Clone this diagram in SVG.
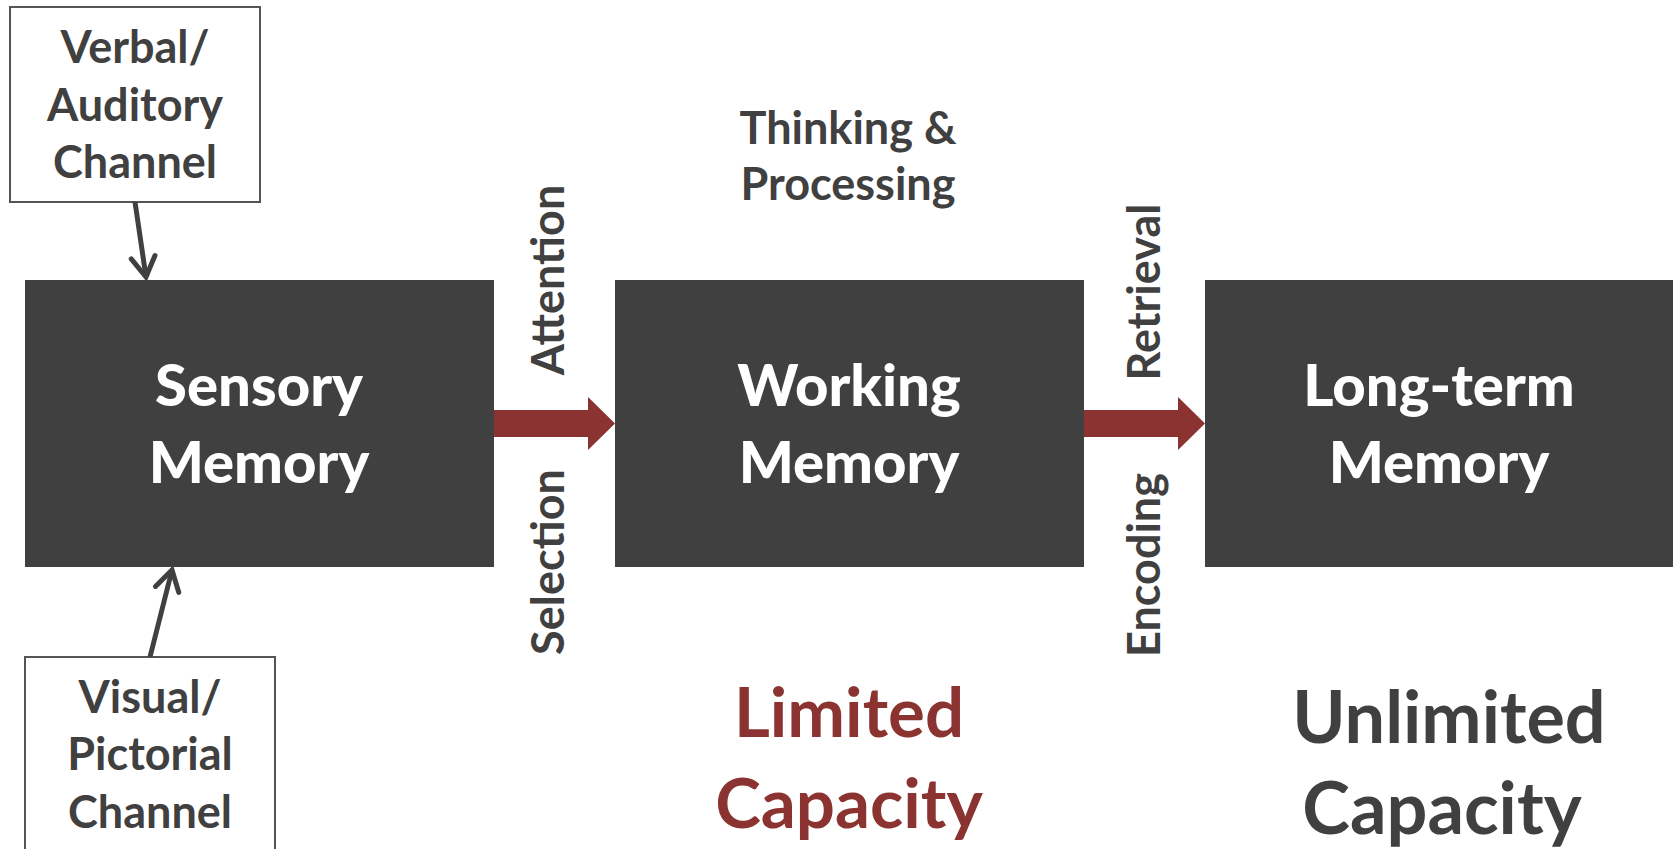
<svg xmlns="http://www.w3.org/2000/svg" width="1673" height="849" viewBox="0 0 1673 849">
<style>
  .mem { fill: #404040; }
  .chan { fill: #ffffff; stroke: #555555; stroke-width: 2; }
  .t { font-family: Lato, "Open Sans", "Liberation Sans", sans-serif; font-weight: bold; text-anchor: middle; }
  .big { font-size: 58px; fill: #ffffff; font-weight: 900; }
  .lbl { font-size: 45px; fill: #404040; }
  .cap { font-size: 69px; }
  .ucap { font-size: 72px; }
  .conn { stroke: #404040; stroke-width: 5; fill: none; }
  .red { fill: #8B3331; }
</style>
<defs>
  <marker id="open" markerUnits="userSpaceOnUse" markerWidth="30" markerHeight="30" viewBox="0 0 30 30" refX="26" refY="15" orient="auto">
    <path d="M6,3 L26,15 L6,27" fill="none" stroke="#404040" stroke-width="5" stroke-linecap="round" stroke-linejoin="miter"/>
  </marker>
</defs>
<rect width="1673" height="849" fill="#ffffff"/>

<g id="verbal-channel">
  <rect class="chan" x="10" y="7" width="250" height="195"/>
  <text class="t lbl" x="135" y="63">Verbal/</text>
  <text class="t lbl" x="135" y="121">Auditory</text>
  <text class="t lbl" x="135" y="178">Channel</text>
</g>
<g id="visual-channel">
  <rect class="chan" x="25" y="657" width="250" height="210"/>
  <text class="t lbl" x="150" y="713">Visual/</text>
  <text class="t lbl" x="150" y="770">Pictorial</text>
  <text class="t lbl" x="150" y="828">Channel</text>
</g>

<g id="sensory-memory">
  <rect class="mem" x="25" y="280" width="469" height="287"/>
  <text class="t big" x="259" y="406">Sensory</text>
  <text class="t big" x="259" y="483">Memory</text>
</g>
<g id="working-memory">
  <rect class="mem" x="615" y="280" width="469" height="287"/>
  <text class="t big" x="849" y="406">Working</text>
  <text class="t big" x="849" y="483">Memory</text>
</g>
<g id="long-term-memory">
  <rect class="mem" x="1205" y="280" width="470" height="287"/>
  <text class="t big" x="1439" y="406">Long-term</text>
  <text class="t big" x="1439" y="483">Memory</text>
</g>

<g id="connectors">
  <line class="conn" x1="135" y1="202" x2="146" y2="277" marker-end="url(#open)"/>
  <line class="conn" x1="150" y1="657" x2="172" y2="570" marker-end="url(#open)"/>
  <polygon class="red" points="494,410 588,410 588,397 615,423.5 588,450 588,437 494,437"/>
  <polygon class="red" points="1084,410 1178,410 1178,397 1205,423.5 1178,450 1178,437 1084,437"/>
</g>

<g id="labels">
  <text class="t lbl" transform="translate(564,280) rotate(-90)">Attention</text>
  <text class="t lbl" transform="translate(564,562) rotate(-90)">Selection</text>
  <text class="t lbl" transform="translate(1160,292) rotate(-90)">Retrieval</text>
  <text class="t lbl" transform="translate(1160,565) rotate(-90)">Encoding</text>
  <text class="t lbl" x="848" y="144">Thinking &amp;</text>
  <text class="t lbl" x="848" y="200">Processing</text>
  <text class="t cap" x="849" y="737" fill="#8B3331">Limited</text>
  <text class="t cap" x="849" y="828" fill="#8B3331">Capacity</text>
  <text class="t ucap" x="1449" y="743" fill="#404040">Unlimited</text>
  <text class="t ucap" x="1442" y="834" fill="#404040">Capacity</text>
</g>
</svg>
